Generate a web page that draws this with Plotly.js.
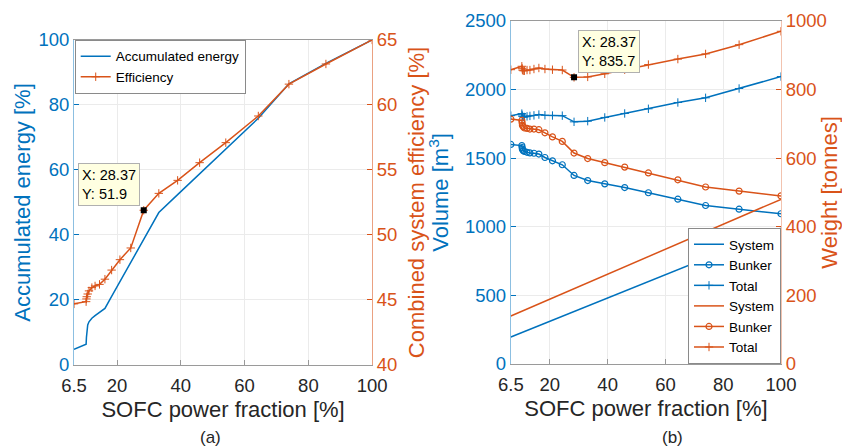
<!DOCTYPE html>
<html>
<head>
<meta charset="utf-8">
<script src="https://cdn.plot.ly/plotly-3.0.1.min.js"></script>
<style>html,body{margin:0;padding:0;background:#fff;}#chart{width:842px;height:448px;}</style>
</head>
<body>
<div id="chart"></div>
<script>
// SOFC power fraction [%]
const sofcFraction = [6.5, 10.3, 10.4, 10.5, 10.8, 11.2, 12.1, 13.1, 14.5, 16.2, 18.3, 20.9, 24.3, 28.37, 33.1, 39.0, 45.9, 54.1, 64.3, 73.9, 85.5, 100];
// (a) Accumulated energy [%]
const accumulatedEnergy = [4.8, 6.4, 8.5, 10.5, 12.3, 13.3, 14.4, 15.2, 16.3, 17.4, 21.1, 25.6, 31.6, 38.6, 46.9, 52.4, 58.8, 66.4, 75.9, 86.5, 92.8, 100];
// (a) Combined system efficiency [%]
const efficiency = [44.7, 44.87, 45.08, 45.25, 45.46, 45.7, 45.95, 46.08, 46.2, 46.6, 47.3, 48.1, 49.0, 51.9, 53.2, 54.2, 55.56, 57.1, 59.15, 61.6, 63.15, 65.0];
// (b) Volume [m3]
const systemX = [6.5, 100];
const volumeSystem = [197, 990];
const volumeBunker = [1600, 1592, 1578, 1566, 1555, 1549, 1543, 1538, 1536, 1530, 1505, 1481, 1452, 1374, 1337, 1313, 1286, 1248, 1201, 1155, 1128, 1095];
const volumeTotal = [1810, 1825, 1815, 1805, 1800, 1800, 1805, 1808, 1812, 1818, 1813, 1811, 1810, 1765, 1770, 1797, 1826, 1860, 1906, 1940, 2008, 2095];
// (b) Weight [tonnes]
const weightSystem = [140, 480];
const weightBunker = [714, 710, 703, 696, 692, 688, 687, 685, 685, 683, 674, 662, 649, 615, 599, 587, 574, 557, 537, 516, 504, 490];
const weightTotal = [858, 868, 862, 857, 855, 855, 857, 857, 860, 863, 860, 858, 857, 835.7, 837, 846, 858, 873, 889, 904, 931, 970];
// data tips
const tipA = {x: 28.37, y: 51.9};
const tipB = {x: 28.37, y: 835.7};
const xTicks = [6.5, 20, 40, 60, 80, 100];
const xTickText = ['6.5', '20', '40', '60', '80', '100'];

const BLUE = '#0072BD', ORANGE = '#D95319', DARK = '#262626';
const FONT = 'Liberation Sans, Arial, Helvetica, sans-serif';
const TICK = 18.5, TITLE = 22;

const traces = [
  {x: sofcFraction, y: accumulatedEnergy, xaxis: 'x', yaxis: 'y', mode: 'lines', name: 'Accumulated energy',
   line: {color: BLUE, width: 1.5}, legend: 'legend'},
  {x: sofcFraction, y: efficiency, xaxis: 'x', yaxis: 'y2', mode: 'lines+markers', name: 'Efficiency',
   line: {color: ORANGE, width: 1.5}, marker: {symbol: 'cross-thin', size: 6, line: {color: ORANGE, width: 1}}, legend: 'legend'},
  {x: [tipA.x], y: [tipA.y], xaxis: 'x', yaxis: 'y2', mode: 'markers', showlegend: false,
   marker: {symbol: 'square', size: 6, color: '#000'}},

  {x: systemX, y: volumeSystem, xaxis: 'x2', yaxis: 'y3', mode: 'lines', name: 'System',
   line: {color: BLUE, width: 1.5}, legend: 'legend2'},
  {x: sofcFraction, y: volumeBunker, xaxis: 'x2', yaxis: 'y3', mode: 'lines+markers', name: 'Bunker',
   line: {color: BLUE, width: 1.5}, marker: {symbol: 'circle-open', size: 6, line: {color: BLUE, width: 1.2}}, legend: 'legend2'},
  {x: sofcFraction, y: volumeTotal, xaxis: 'x2', yaxis: 'y3', mode: 'lines+markers', name: 'Total',
   line: {color: BLUE, width: 1.5}, marker: {symbol: 'cross-thin', size: 6, line: {color: BLUE, width: 1}}, legend: 'legend2'},
  {x: systemX, y: weightSystem, xaxis: 'x2', yaxis: 'y4', mode: 'lines', name: 'System',
   line: {color: ORANGE, width: 1.5}, legend: 'legend2'},
  {x: sofcFraction, y: weightBunker, xaxis: 'x2', yaxis: 'y4', mode: 'lines+markers', name: 'Bunker',
   line: {color: ORANGE, width: 1.5}, marker: {symbol: 'circle-open', size: 6, line: {color: ORANGE, width: 1.2}}, legend: 'legend2'},
  {x: sofcFraction, y: weightTotal, xaxis: 'x2', yaxis: 'y4', mode: 'lines+markers', name: 'Total',
   line: {color: ORANGE, width: 1.5}, marker: {symbol: 'cross-thin', size: 6, line: {color: ORANGE, width: 1}}, legend: 'legend2'},
  {x: [tipB.x], y: [tipB.y], xaxis: 'x2', yaxis: 'y4', mode: 'markers', showlegend: false,
   marker: {symbol: 'square', size: 6, color: '#000'}}
];

function xAxis(domain, anchor) {
  return {
    domain: domain, anchor: anchor, range: [6.5, 100], tickvals: xTicks, ticktext: xTickText,
    ticks: 'inside', ticklen: 5, tickcolor: '#999', showline: true, linecolor: '#9a9a9a', linewidth: 1, mirror: true,
    showgrid: true, gridcolor: '#ebebeb', gridwidth: 1, zeroline: false, ticklabelstandoff: 4,
    tickfont: {family: FONT, size: TICK, color: DARK},
    title: {text: 'SOFC power fraction [%]', font: {family: FONT, size: TITLE, color: DARK}, standoff: 6}
  };
}
function yAxisLeft(domain, anchor, range, dtick, title, color, lineColor, standoff) {
  return {
    domain: domain, anchor: anchor, range: range, dtick: dtick, side: 'left',
    ticks: 'inside', ticklen: 5, tickcolor: color, showline: true, linecolor: lineColor, linewidth: 1,
    showgrid: true, gridcolor: '#ebebeb', zeroline: false,
    tickfont: {family: FONT, size: TICK, color: color},
    title: {text: title, font: {family: FONT, size: TITLE, color: color}, standoff: standoff}
  };
}
function yAxisRight(overlay, anchor, range, dtick, title, color, lineColor, standoff) {
  return {
    overlaying: overlay, anchor: anchor, range: range, dtick: dtick, side: 'right',
    ticks: 'inside', ticklen: 5, tickcolor: color, showline: true, linecolor: lineColor, linewidth: 1,
    showgrid: false, zeroline: false,
    tickfont: {family: FONT, size: TICK, color: color},
    title: {text: title, font: {family: FONT, size: TITLE, color: color}, standoff: standoff}
  };
}

const legendCommon = {
  bgcolor: '#ffffff', bordercolor: '#8a8a8a', borderwidth: 1,
  font: {family: FONT, size: 13.5, color: '#000'}, itemwidth: 30, tracegroupgap: 0,
  xref: 'paper', yref: 'paper'
};

const layout = {
  width: 842, height: 448,
  margin: {l: 74, r: 61, t: 21, b: 83},
  paper_bgcolor: '#fff', plot_bgcolor: '#fff',
  font: {family: FONT},
  xaxis: xAxis([0, 0.4217], 'y'),
  yaxis: yAxisLeft([0, 0.945], 'x', [0, 100], 20, 'Accumulated energy [%]', BLUE, 'rgba(0,114,189,0.45)', 1),
  yaxis2: yAxisRight('y', 'x', [40, 65], 5, 'Combined system efficiency [%]', ORANGE, 'rgba(217,83,25,0.55)', 12),
  xaxis2: xAxis([0.6179, 1], 'y3'),
  yaxis3: yAxisLeft([0.003, 1], 'x2', [0, 2500], 500, 'Volume [m<sup>3</sup>]', BLUE, 'rgba(0,114,189,0.45)', 10),
  yaxis4: yAxisRight('y3', 'x2', [0, 1000], 200, 'Weight [tonnes]', ORANGE, 'rgba(217,83,25,0.35)', 5),
  legend: Object.assign({}, legendCommon, {x: 0.001, xanchor: 'left', y: 0.945, yanchor: 'top'}),
  legend2: Object.assign({}, legendCommon, {x: 1, xanchor: 'right', y: 0.003, yanchor: 'bottom'}),
  showlegend: true,
  annotations: [
    {xref: 'x', yref: 'y2', x: tipA.x, y: tipA.y, text: 'X: 28.37<br>Y: 51.9', showarrow: false,
     xanchor: 'right', yanchor: 'bottom', xshift: -4, yshift: 4, align: 'left',
     bgcolor: '#ffffe1', bordercolor: '#b0b0b0', borderwidth: 1, borderpad: 3,
     font: {family: FONT, size: 14.5, color: '#000'}},
    {xref: 'x2', yref: 'y4', x: tipB.x, y: tipB.y, text: 'X: 28.37<br>Y: 835.7', showarrow: false,
     xanchor: 'left', yanchor: 'bottom', xshift: 4, yshift: 4, align: 'left',
     bgcolor: '#ffffe1', bordercolor: '#b0b0b0', borderwidth: 1, borderpad: 3,
     font: {family: FONT, size: 14.5, color: '#000'}},
    {xref: 'paper', yref: 'paper', x: (210 - 74) / 707, y: (448 - 83 - 437) / 344, text: '(a)', showarrow: false,
     xanchor: 'center', yanchor: 'middle', font: {family: FONT, size: 17, color: DARK}},
    {xref: 'paper', yref: 'paper', x: (672 - 74) / 707, y: (448 - 83 - 437) / 344, text: '(b)', showarrow: false,
     xanchor: 'center', yanchor: 'middle', font: {family: FONT, size: 17, color: DARK}}
  ]
};

Plotly.newPlot('chart', traces, layout, {displayModeBar: false, staticPlot: true});
</script>
</body>
</html>
